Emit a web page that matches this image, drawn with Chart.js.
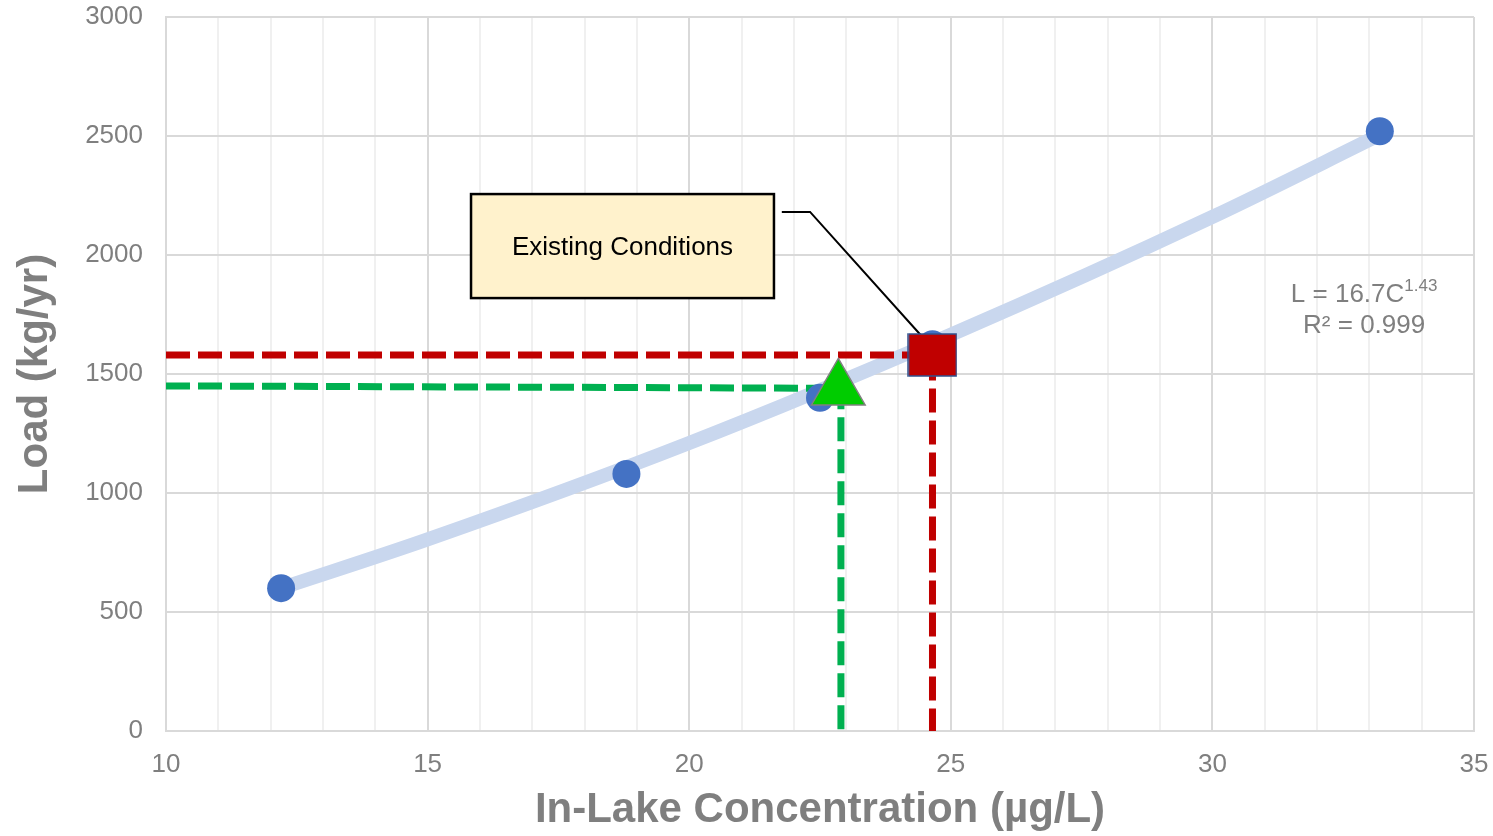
<!DOCTYPE html>
<html>
<head>
<meta charset="utf-8">
<title>Load vs In-Lake Concentration</title>
<script src="https://cdn.jsdelivr.net/npm/chart.js@4.4.1/dist/chart.umd.min.js"></script>
<style>
  html, body { margin: 0; padding: 0; background: #fff; }
  #wrap { width: 1493px; height: 836px; position: relative; }
</style>
</head>
<body>
<div id="wrap"><canvas id="loadChart"></canvas></div>
<script>
// model runs: in-lake concentration (ug/L) vs load (kg/yr)
const concentration = [12.2, 18.8, 22.5, 24.65, 33.2];
const load = [600, 1080, 1400, 1625, 2520];

// power trendline L = 16.7C^1.43
const trendConc = [12.2, 15, 20, 25, 30, 33.2];
const trendLoad = [600, 805, 1210, 1665, 2160, 2505];

// existing conditions (red square) and target (green triangle)
const existingConc = 24.65;
const existingLoad = 1580;
const targetConc = 22.85;
const targetLoad = 1435;
const targetLineConc = 22.9;
const targetLineLoad = [1450, 1440];

const xMajorTicks = [10, 15, 20, 25, 30, 35];
const yTicks = [0, 500, 1000, 1500, 2000, 2500, 3000];

const equationLines = ['L = 16.7C', 'R\u00b2 = 0.999'];
const equationExp = '1.43';
const calloutText = 'Existing Conditions';

const FONT = "'Liberation Sans', Arial, sans-serif";
const GREY = '#7f7f7f';

// red square marker, a bit wider than tall like the original
function squareMarker() {
    let c = document.createElement('canvas');
    c.width = 50;
    c.height = 44;
    let g = c.getContext('2d');
    g.fillStyle = '#c00000';
    g.fillRect(1, 1, 48, 42);
    g.strokeStyle = '#2f528f';
    g.lineWidth = 1.5;
    g.strokeRect(1, 1, 48, 42);
    return c;
}

function pts(xs, ys) {
    let out = [];
    for (let i = 0; i < xs.length; i++) {
        out.push({ x: xs[i], y: ys[i] });
    }
    return out;
}

// callout box, leader line and trendline equation
const annotations = {
    id: 'annotations',
    beforeDatasetsDraw(chart) {
        let ctx = chart.ctx;
        let xs = chart.scales.x;
        let ys = chart.scales.y;
        ctx.save();

        // callout box
        let bx0 = xs.getPixelForValue(15.83), bx1 = xs.getPixelForValue(21.62);
        let by0 = ys.getPixelForValue(2256), by1 = ys.getPixelForValue(1819);
        ctx.fillStyle = '#fff2cc';
        ctx.fillRect(bx0, by0, bx1 - bx0, by1 - by0);
        ctx.strokeStyle = '#000';
        ctx.lineWidth = 2.5;
        ctx.strokeRect(bx0, by0, bx1 - bx0, by1 - by0);
        ctx.fillStyle = '#000';
        ctx.font = '26px ' + FONT;
        ctx.textAlign = 'center';
        ctx.textBaseline = 'middle';
        ctx.fillText(calloutText, (bx0 + bx1) / 2, (by0 + by1) / 2 + 2);

        // leader line to the existing conditions marker
        ctx.beginPath();
        ctx.lineWidth = 2;
        ctx.moveTo(xs.getPixelForValue(21.77), ys.getPixelForValue(2181));
        ctx.lineTo(xs.getPixelForValue(22.31), ys.getPixelForValue(2181));
        ctx.lineTo(xs.getPixelForValue(24.51), ys.getPixelForValue(1643));
        ctx.stroke();

        // trendline equation
        let ex = xs.getPixelForValue(32.9);
        let ey = ys.getPixelForValue(1845);
        ctx.fillStyle = GREY;
        ctx.textAlign = 'left';
        ctx.textBaseline = 'alphabetic';
        ctx.font = '26px ' + FONT;
        let w1 = ctx.measureText(equationLines[0]).width;
        ctx.font = '17px ' + FONT;
        let w2 = ctx.measureText(equationExp).width;
        let start = ex - (w1 + w2) / 2;
        ctx.font = '26px ' + FONT;
        ctx.fillText(equationLines[0], start, ey + 10);
        ctx.font = '17px ' + FONT;
        ctx.fillText(equationExp, start + w1, ey - 1);
        ctx.font = '26px ' + FONT;
        ctx.textAlign = 'center';
        ctx.fillText(equationLines[1], ex, ey + 41);
        ctx.restore();
    }
};

let ctx = document.getElementById('loadChart');
let chart = new Chart(ctx, {
    type: 'scatter',
    data: {
        datasets: [
            {
                label: 'Power trendline',
                data: pts(trendConc, trendLoad),
                showLine: true,
                cubicInterpolationMode: 'monotone',
                borderColor: '#c9d7ee',
                borderWidth: 14,
                borderCapStyle: 'butt',
                pointRadius: 0,
                order: 10
            },
            {
                label: 'Existing guide',
                data: [
                    { x: 10, y: existingLoad },
                    { x: existingConc, y: existingLoad },
                    { x: existingConc, y: 0 }
                ],
                showLine: true,
                borderColor: '#c00000',
                borderWidth: 7,
                borderDash: [24, 8],
                borderCapStyle: 'butt',
                pointRadius: 0,
                order: 8
            },
            {
                label: 'Target guide',
                data: [
                    { x: 10, y: targetLineLoad[0] },
                    { x: targetLineConc, y: targetLineLoad[1] },
                    { x: targetLineConc, y: 0 }
                ],
                showLine: true,
                borderColor: '#00b050',
                borderWidth: 7,
                borderDash: [24, 8],
                borderCapStyle: 'butt',
                pointRadius: 0,
                order: 7
            },
            {
                label: 'Model runs',
                data: pts(concentration, load),
                backgroundColor: '#4472c4',
                borderColor: '#4472c4',
                pointRadius: 14,
                pointBorderWidth: 0,
                order: 5
            },
            {
                label: 'Target',
                data: [{ x: targetConc, y: targetLoad }],
                pointStyle: 'triangle',
                pointRadius: 31,
                backgroundColor: '#00cc00',
                borderColor: '#808080',
                pointBorderWidth: 1.5,
                order: 2
            },
            {
                label: 'Existing Conditions',
                data: [{ x: existingConc, y: existingLoad }],
                pointStyle: squareMarker(),
                order: 1
            }
        ]
    },
    options: {
        responsive: true,
        maintainAspectRatio: false,
        animation: false,
        layout: { autoPadding: false, padding: { top: 17, right: 19, left: 0, bottom: 0 } },
        plugins: {
            legend: { display: false },
            tooltip: { enabled: false }
        },
        scales: {
            x: {
                type: 'linear',
                min: 10,
                max: 35,
                afterFit: (scale) => {
                    scale.height = 105;
                    scale.paddingLeft = 0;
                    scale.paddingRight = 0;
                },
                border: { color: '#d9d9d9', width: 2 },
                grid: {
                    drawTicks: false,
                    lineWidth: 2,
                    color: (c) => xMajorTicks.includes(c.tick.value) ? '#d9d9d9' : '#f0f0f0'
                },
                ticks: {
                    stepSize: 1,
                    autoSkip: false,
                    maxRotation: 0,
                    padding: 18,
                    color: GREY,
                    font: { family: FONT, size: 26 },
                    callback: (v) => xMajorTicks.includes(v) ? String(v) : ''
                },
                title: {
                    display: true,
                    text: 'In-Lake Concentration (\u00b5g/L)',
                    color: GREY,
                    font: { family: FONT, size: 42, weight: 'bold' },
                    padding: { top: 0, bottom: 0 }
                }
            },
            y: {
                min: 0,
                max: 3000,
                afterFit: (scale) => {
                    scale.width = 166;
                    scale.paddingTop = 0;
                    scale.paddingBottom = 0;
                },
                border: { color: '#d9d9d9', width: 2 },
                grid: { drawTicks: false, lineWidth: 2, color: '#d9d9d9' },
                ticks: {
                    stepSize: 500,
                    padding: 23,
                    color: GREY,
                    font: { family: FONT, size: 26 },
                    callback: (v) => yTicks.includes(v) ? String(v) : ''
                },
                title: {
                    display: true,
                    text: 'Load (kg/yr)',
                    color: GREY,
                    font: { family: FONT, size: 42, weight: 'bold' },
                    padding: { top: 10, bottom: 0 }
                }
            }
        }
    },
    plugins: [annotations]
});
</script>
</body>
</html>
